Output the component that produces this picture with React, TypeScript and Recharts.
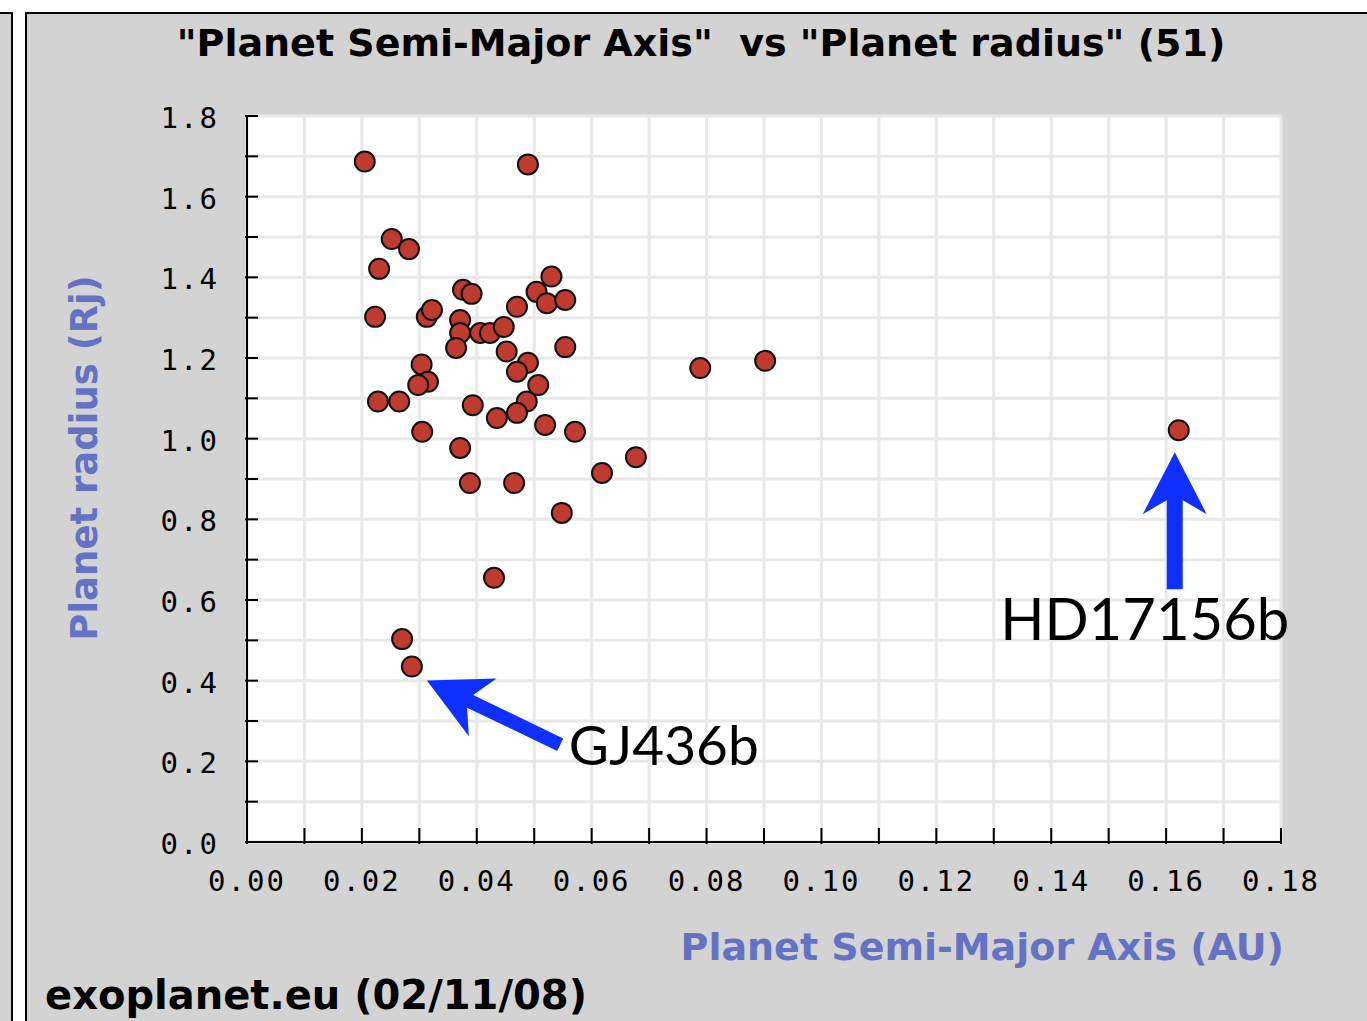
import React from 'react';
import {
  ScatterChart,
  Scatter,
  XAxis,
  YAxis,
  CartesianGrid,
  ReferenceDot,
} from 'recharts';

// semi-major axis (AU) and radius (Rj) of each transiting planet
const SEMI_MAJOR_AXIS = [
  0.0205, 0.0489, 0.0252, 0.0282, 0.023, 0.053, 0.0376, 0.0391, 0.0504, 0.0522,
  0.0554, 0.047, 0.0223, 0.0313, 0.0322, 0.0371, 0.0371, 0.0406, 0.0423, 0.0447,
  0.0364, 0.0452, 0.0554, 0.0304, 0.0315, 0.0298, 0.0489, 0.047, 0.0507, 0.0789,
  0.0902, 0.0228, 0.0265, 0.0393, 0.0487, 0.047, 0.0435, 0.0519, 0.0571, 0.0305,
  0.0371, 0.0677, 0.0618, 0.0388, 0.0465, 0.0548, 0.043, 0.027, 0.0287, 0.1622,
];
const PLANET_RADIUS = [
  1.687, 1.68, 1.495, 1.47, 1.421, 1.402, 1.369, 1.359, 1.364, 1.336,
  1.344, 1.327, 1.302, 1.302, 1.319, 1.294, 1.262, 1.262, 1.262, 1.277,
  1.225, 1.216, 1.227, 1.184, 1.141, 1.133, 1.188, 1.166, 1.133, 1.175,
  1.193, 1.092, 1.092, 1.083, 1.092, 1.064, 1.051, 1.034, 1.017, 1.017,
  0.977, 0.954, 0.915, 0.89, 0.89, 0.816, 0.655, 0.503, 0.435, 1.021,
];

const X_TICKS = [0, 0.01, 0.02, 0.03, 0.04, 0.05, 0.06, 0.07, 0.08, 0.09, 0.1, 0.11, 0.12, 0.13, 0.14, 0.15, 0.16, 0.17, 0.18];
const Y_TICKS = [0, 0.1, 0.2, 0.3, 0.4, 0.5, 0.6, 0.7, 0.8, 0.9, 1.0, 1.1, 1.2, 1.3, 1.4, 1.5, 1.6, 1.7, 1.8];

const GJ436B = 48;
const HD17156B = 49;

const points = SEMI_MAJOR_AXIS.map((a, i) => ({ a, r: PLANET_RADIUS[i] }));

const PANEL = '#d3d3d3';
const AXIS_BLUE = '#6472c3';
const ARROW_BLUE = '#1030ff';
const TICK_FONT = { fontFamily: '"DejaVu Sans Mono", monospace', fontSize: 29, letterSpacing: 2 };

function Dot(props: any) {
  const { cx, cy } = props;
  return <circle cx={cx} cy={cy} r={10} fill="#bf3b30" stroke="#111" strokeWidth={2} />;
}

function XTick({ x, y, payload }: any) {
  const v = payload.value;
  const labelled = Math.round(v * 100) % 2 === 0;
  return (
    <g>
      <line x1={x} y1={y} x2={x} y2={y - 16} stroke="#000" strokeWidth={2} />
      {labelled && (
        <text x={x} y={y + 37} textAnchor="middle" dominantBaseline="central" fill="#000" style={TICK_FONT}>
          {v.toFixed(2)}
        </text>
      )}
    </g>
  );
}

function YTick({ x, y, payload }: any) {
  const v = payload.value;
  const labelled = Math.round(v * 10) % 2 === 0;
  return (
    <g>
      <line x1={x} y1={y} x2={x + 13} y2={y} stroke="#000" strokeWidth={2} />
      {labelled && (
        <text x={x - 26} y={y + 2} textAnchor="end" dominantBaseline="central" fill="#000" style={TICK_FONT}>
          {v.toFixed(1)}
        </text>
      )}
    </g>
  );
}

// block arrow pointing at (tx, ty), shaft running along (ux, uy)
function arrowPath(tx: number, ty: number, ux: number, uy: number, len: number, shaft: number) {
  const nx = -uy;
  const ny = ux;
  const at = (d: number, w: number) => `${tx + d * ux + w * nx},${ty + d * uy + w * ny}`;
  return [
    at(0, 0),
    at(62, 32),
    at(48, shaft),
    at(len, shaft),
    at(len, -shaft),
    at(48, -shaft),
    at(62, -32),
  ].join(' ');
}

function GjMarker({ cx, cy }: any) {
  const ux = 133 / 147.6;
  const uy = 64 / 147.6;
  return (
    <g>
      <polygon points={arrowPath(cx + 15, cy + 14, ux, uy, 148, 7)} fill={ARROW_BLUE} />
      <text x={cx + 157} y={cy + 98} fill="#000" style={{ fontFamily: 'Lato', fontSize: 55 }}>
        GJ436b
      </text>
    </g>
  );
}

function HdMarker({ cx, cy }: any) {
  return (
    <g>
      <polygon points={arrowPath(cx - 4, cy + 22, 0, 1, 137, 8)} fill={ARROW_BLUE} />
      <text x={cx - 34} y={cy + 210} textAnchor="middle" fill="#000" style={{ fontFamily: 'Lato', fontSize: 58 }}>
        HD17156b
      </text>
    </g>
  );
}

export default function App() {
  return (
    <div style={{ position: 'absolute', left: 0, top: 0, width: 1367, height: 1021, overflow: 'hidden', background: '#fff' }}>
      <div style={{ position: 'absolute', left: 0, top: 12, width: 11, height: 1009, background: PANEL, borderTop: '2px solid #000', borderRight: '2px solid #000' }} />
      <div style={{ position: 'absolute', left: 25, top: 12, width: 1342, height: 1009, background: PANEL, borderTop: '2px solid #000', borderLeft: '2px solid #000' }} />

      <div
        style={{
          position: 'absolute', left: 27, top: 14, width: 1340, textAlign: 'center', whiteSpace: 'pre',
          fontFamily: '"DejaVu Sans", sans-serif', fontWeight: 'bold', fontSize: 38, color: '#000',
          lineHeight: '58px', paddingLeft: 8, boxSizing: 'border-box',
        }}
      >
        {'"Planet Semi-Major Axis"  vs "Planet radius" (51)'}
      </div>

      <div style={{ position: 'absolute', left: 27, top: 14 }}>
        <ScatterChart width={1340} height={1007} margin={{ top: 102, right: 86, bottom: 139, left: 160 }}>
          <CartesianGrid stroke="#e8e8e8" strokeWidth={3} fill="#fff" fillOpacity={1} />
          <XAxis
            type="number"
            dataKey="a"
            domain={[0, 0.18]}
            ticks={X_TICKS}
            interval={0}
            height={40}
            tickSize={0}
            tickLine={false}
            tick={<XTick />}
            axisLine={{ stroke: '#000', strokeWidth: 2 }}
          />
          <YAxis
            type="number"
            dataKey="r"
            domain={[0, 1.8]}
            ticks={Y_TICKS}
            interval={0}
            width={60}
            tickSize={0}
            tickLine={false}
            tick={<YTick />}
            axisLine={{ stroke: '#000', strokeWidth: 2 }}
          />
          <Scatter data={points} shape={<Dot />} isAnimationActive={false} />
          <ReferenceDot x={SEMI_MAJOR_AXIS[GJ436B]} y={PLANET_RADIUS[GJ436B]} r={0} ifOverflow="visible" shape={(p: any) => <GjMarker {...p} />} />
          <ReferenceDot x={SEMI_MAJOR_AXIS[HD17156B]} y={PLANET_RADIUS[HD17156B]} r={0} ifOverflow="visible" shape={(p: any) => <HdMarker {...p} />} />
        </ScatterChart>
      </div>

      <div style={{ position: 'absolute', left: 85, top: 458, width: 0, height: 0 }}>
        <div
          style={{
            position: 'absolute', left: 0, top: 0, transform: 'translate(-50%, -50%) rotate(-90deg)', whiteSpace: 'pre',
            fontFamily: '"DejaVu Sans", sans-serif', fontWeight: 'bold', fontSize: 37, color: AXIS_BLUE, lineHeight: '44px',
          }}
        >
          Planet radius (Rj)
        </div>
      </div>

      <div
        style={{
          position: 'absolute', right: 1367 - 1284, top: 922, whiteSpace: 'pre',
          fontFamily: '"DejaVu Sans", sans-serif', fontWeight: 'bold', fontSize: 38, color: AXIS_BLUE, lineHeight: '50px',
        }}
      >
        Planet Semi-Major Axis (AU)
      </div>

      <div
        style={{
          position: 'absolute', left: 45, top: 969, whiteSpace: 'pre',
          fontFamily: '"DejaVu Sans", sans-serif', fontWeight: 'bold', fontSize: 40, color: '#000', lineHeight: '52px',
        }}
      >
        exoplanet.eu (02/11/08)
      </div>
    </div>
  );
}
